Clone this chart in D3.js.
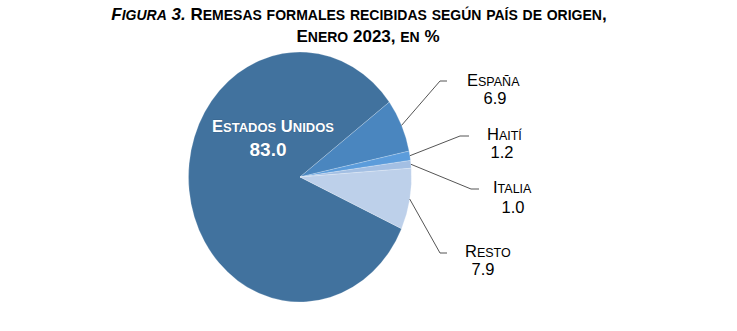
<!DOCTYPE html>
<html>
<head>
<meta charset="utf-8">
<script src="https://cdn.jsdelivr.net/npm/d3@7"></script>
<style>
  body { margin: 0; background: #fff; }
  svg { display: block; font-family: "Liberation Sans", Arial, sans-serif; }
</style>
</head>
<body>
<div id="chart"></div>
<script>
// Data
const countries = ["Estados Unidos", "España", "Haití", "Italia", "Resto"];
const shares = [83.0, 6.9, 1.2, 1.0, 7.9];
const sliceColors = ["#41729e", "#4a86bf", "#5b9cdb", "#a3bfe3", "#bdd0ea"];

const width = 737;
const height = 331;

// Pie is drawn slightly elliptical, like the original
const cx = 300, cy = 177;
const rx = 111.5, ry = 125;

// Estados Unidos ends at ~53 deg (clockwise from 12 o'clock)
const endUS = 53.2 * Math.PI / 180;
const startAngle = endUS - 2 * Math.PI * shares[0] / 100;

const svg = d3.select("#chart")
    .append("svg")
    .attr("width", width)
    .attr("height", height);

// Small caps by hand: capitals stay big, lowercase becomes smaller capitals
function smallCaps(sel, str, big, small) {
    const runs = [];
    for (const ch of str) {
        const isLower = ch !== ch.toUpperCase();
        const size = isLower ? small : big;
        if (runs.length && runs[runs.length - 1].size === size) runs[runs.length - 1].t += ch;
        else runs.push({ t: ch, size: size });
    }
    runs.forEach(r => sel.append("tspan").attr("font-size", r.size).text(r.t.toUpperCase()));
}

// Title
const title = svg.append("g")
    .attr("font-weight", "bold")
    .attr("fill", "#000");

const t1 = title.append("text").attr("x", 359).attr("y", 19.5).attr("text-anchor", "middle");
smallCaps(t1.append("tspan").attr("font-style", "italic"), "Figura 3.", 17, 14);
smallCaps(t1.append("tspan"), " Remesas formales recibidas según país de origen,", 17, 14);
const t2 = title.append("text").attr("x", 368).attr("y", 42).attr("text-anchor", "middle");
smallCaps(t2, "Enero 2023, en %", 17, 14);

// Pie
const pie = d3.pie()
    .sort(null)
    .startAngle(startAngle)
    .endAngle(startAngle + 2 * Math.PI);

const arcs = pie(shares);

const arc = d3.arc()
    .innerRadius(0)
    .outerRadius(ry);

svg.append("g")
    .attr("transform", `translate(${cx},${cy}) scale(${rx / ry},1)`)
    .selectAll("path")
    .data(arcs)
    .enter()
    .append("path")
    .attr("d", arc)
    .attr("fill", (d, i) => sliceColors[i])
    .attr("stroke", "rgba(255,255,255,0.35)")
    .attr("stroke-width", 0.6)
    .attr("vector-effect", "non-scaling-stroke");

// Point on the ellipse edge at a given pie angle
function edge(a) {
    return [cx + rx * Math.sin(a), cy - ry * Math.cos(a)];
}

// Inner label for Estados Unidos
const usName = svg.append("text")
    .attr("x", 273).attr("y", 132)
    .attr("text-anchor", "middle")
    .attr("fill", "#fff")
    .attr("font-weight", "bold")
    .style("paint-order", "stroke")
    .attr("stroke", "rgba(0,0,0,0.15)")
    .attr("stroke-width", 1);
smallCaps(usName, countries[0], 16.5, 13);

svg.append("text")
    .attr("x", 268).attr("y", 156)
    .attr("text-anchor", "middle")
    .attr("fill", "#fff")
    .attr("font-weight", "bold")
    .attr("font-size", 19)
    .style("paint-order", "stroke")
    .attr("stroke", "rgba(0,0,0,0.15)")
    .attr("stroke-width", 1)
    .text(shares[0].toFixed(1));

// Outside labels with leader lines: elbow point, elbow end, label position
const outside = [
    { i: 1, elbow: [440, 81], tail: 447, name: [467, 86], value: [495, 104] },
    { i: 2, elbow: [460, 136], tail: 469, name: [487, 140], value: [502, 158] },
    { i: 3, elbow: [471, 189], tail: 479, name: [493, 193], value: [513, 213] },
    { i: 4, elbow: [440, 253], tail: 447, name: [465, 257], value: [483, 275] }
];

const line = d3.line();

outside.forEach(o => {
    const d = arcs[o.i];
    const mid = (d.startAngle + d.endAngle) / 2;
    const p0 = edge(mid);
    svg.append("path")
        .attr("d", line([p0, o.elbow, [o.tail, o.elbow[1]]]))
        .attr("fill", "none")
        .attr("stroke", "#555")
        .attr("stroke-width", 1);

    const name = svg.append("text")
        .attr("x", o.name[0])
        .attr("y", o.name[1])
        .attr("fill", "#000");
    smallCaps(name, countries[o.i], 16.5, 12.5);

    svg.append("text")
        .attr("x", o.value[0])
        .attr("y", o.value[1])
        .attr("text-anchor", "middle")
        .attr("font-size", 16.5)
        .attr("fill", "#000")
        .text(shares[o.i].toFixed(1));
});
</script>
</body>
</html>
